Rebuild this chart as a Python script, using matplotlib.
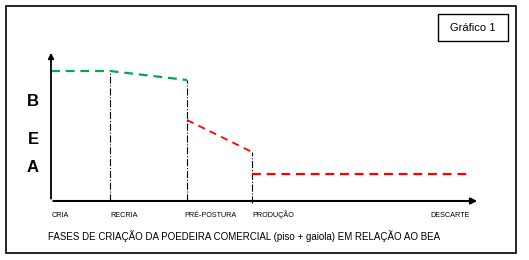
import matplotlib.pyplot as plt
from matplotlib.patches import Rectangle

# phases along the x axis (arbitrary time units)
phases = ["CRIA", "RECRIA", "PRÉ-POSTURA", "PRODUÇÃO", "DESCARTE"]
phase_x = [0.0, 5.9, 13.6, 20.1, 41.9]

# welfare level (BEA) per segment
green_x = [0.0, 5.9, 13.6]
green_y = [13.0, 13.0, 12.1]
red1_x = [13.6, 20.1]
red1_y = [8.1, 4.9]
red2_x = [20.1, 41.9]
red2_y = [2.7, 2.7]

letters = ["B", "E", "A"]
letters_y = [9.9, 6.1, 3.3]

title = "FASES DE CRIAÇÃO DA POEDEIRA COMERCIAL (piso + gaiola) EM RELAÇÃO AO BEA"

plt.rcParams['font.family'] = ["Liberation Sans", "DejaVu Sans"]

fig = plt.figure(figsize=(5.29, 2.60), dpi=100)
ax = fig.add_axes([0, 0, 1, 1])
ax.set_xlim(-5.1, 47.8)
ax.set_ylim(-5.9, 20.1)
ax.axis("off")

# outer frame
ax.add_patch(Rectangle((-4.5, -5.2), 51.0, 24.7, fill=False, lw=1.2, ec="black"))

# axes with arrows
ax.annotate("", xy=(0, 15.1), xytext=(0, -0.05),
            arrowprops=dict(arrowstyle="-|>", lw=1.3, color="black", mutation_scale=8))
ax.annotate("", xy=(42.9, 0), xytext=(-0.05, 0),
            arrowprops=dict(arrowstyle="-|>", lw=1.5, color="black", mutation_scale=9))

# vertical phase separators
ax.plot([green_x[1], green_x[1]], [0, green_y[1]], color="black", lw=0.8, ls="-.")
ax.plot([green_x[2], green_x[2]], [0, green_y[2]], color="black", lw=0.8, ls="-.")
ax.plot([red1_x[1], red1_x[1]], [-0.2, red1_y[1]], color="black", lw=0.8, ls="-.")

# welfare lines
ax.plot(green_x, green_y, color="#00a84f", lw=1.6, ls=(0, (4, 2.6)))
ax.plot(red1_x, red1_y, color="#ff0000", lw=1.3, ls=(0, (4, 3)))
ax.plot(red2_x, red2_y, color="#ff0000", lw=1.6, ls=(0, (4, 2.6)))

for t, yy in zip(letters, letters_y):
    ax.text(-1.8, yy, t, fontsize=12, fontweight="bold", ha="center", va="center")

aligns = ["left", "left", "left", "left", "right"]
offsets = [0.1, 0.0, -0.3, 0.0, 0.0]
for name, xx, ha, off in zip(phases, phase_x, aligns, offsets):
    ax.text(xx + off, -1.6, name, fontsize=5.2, ha=ha, va="baseline")

ax.text(-0.3, -3.95, title, fontsize=7, ha="left", va="baseline")

# "Gráfico 1" box
ax.add_patch(Rectangle((38.7, 16.0), 7.0, 2.7, fill=False, lw=1.0, ec="black"))
ax.text(42.2, 17.3, "Gráfico 1", fontsize=8, ha="center", va="center")

fig.savefig("out.png", dpi=100)
